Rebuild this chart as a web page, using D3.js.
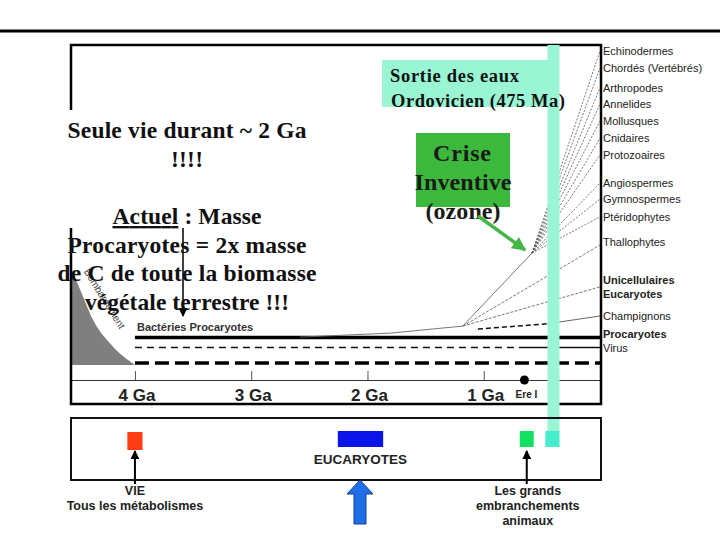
<!DOCTYPE html>
<html lang="fr">
<head>
<meta charset="utf-8">
<title>Histoire de la vie</title>
<script src="https://cdn.jsdelivr.net/npm/d3@7"></script>
<style>
  body { margin: 0; background: #fff; }
  svg { display: block; }
</style>
</head>
<body>
<script>
// ---- data (time in Ga, level in arbitrary units 0..100) ----
var tickValues = [4, 3, 2, 1];
var tickLabels = ["4 Ga", "3 Ga", "2 Ga", "1 Ga"];

var groupNames = ["Echinodermes", "Chordés (Vertébrés)", "Arthropodes", "Annelides",
  "Mollusques", "Cnidaires", "Protozoaires", "Angiospermes", "Gymnospermes",
  "Ptéridophytes", "Thallophytes", "Unicellulaires", "Eucaryotes", "Champignons",
  "Procaryotes", "Virus"];
var groupLevels = [98.2, 93.1, 87.2, 82.4, 77.3, 72.2, 67.2, 58.8, 54.0, 48.7, 41.2,
  29.9, 25.7, 19.1, 13.7, 9.6];
var groupBold = [0, 0, 0, 0, 0, 0, 0, 0, 0, 0, 0, 1, 1, 0, 1, 0];

// branches: start time, start level, end level (end time = 0)
var branchFrom = [0.585, 0.585, 0.585, 0.585, 0.585, 0.585, 0.585, 0.585, 0.585, 0.585, 1.18, 1.18];
var branchFromLevel = [37.9, 37.9, 37.9, 37.9, 37.9, 37.9, 37.9, 37.9, 37.9, 37.9, 16.1, 16.1];
var branchToLevel = [98.2, 93.1, 87.2, 82.4, 77.3, 72.2, 67.2, 58.8, 54.0, 48.7, 40.3, 27.8];

// eukaryote stem
var stemTimes = [2.58, 1.8, 1.18, 0.585];
var stemLevels = [12.8, 14.0, 16.1, 37.9];

// procaryote lines
var procaLevel = 12.7, virusLevel = 9.7, bacteriaLevel = 5.1;
var linesStart = 4.0, virusSolidFrom = 0.68;
var champDash = [[1.05, 15.2], [0.45, 16.8]];
var champSolid = [[0.45, 16.8], [0, 19.1]];

// bombardement area
var bombTimes = [4.55, 4.47, 4.36, 4.2, 4.0];
var bombLevels = [33.5, 26.9, 17.9, 10.4, 4.5];

var ereI = 0.65;
var sortieTime = 0.40;

// events on the lower strip
var eventTimes = [4.0, 2.06, 0.63, 0.41];
var eventWidths = [0.13, 0.39, 0.12, 0.12];
var eventColors = ["#ff3c12", "#0a14e6", "#12e262", "#45ecce"];

// ---- drawing ----
var w = 720, h = 540;
var svg = d3.select("body").append("svg").attr("width", w).attr("height", h);

var x = d3.scaleLinear().domain([4.55, 0]).range([71, 600]);
var y = d3.scaleLinear().domain([0, 100]).range([380, 45]);

var sans = "'Liberation Sans', Arial, sans-serif";
var serif = "'Liberation Serif', 'Times New Roman', serif";

var defs = svg.append("defs");
function marker(id, color, size) {
  defs.append("marker").attr("id", id).attr("viewBox", "0 0 10 10")
    .attr("refX", 9).attr("refY", 5).attr("markerWidth", size).attr("markerHeight", size)
    .attr("markerUnits", "userSpaceOnUse").attr("orient", "auto")
    .append("path").attr("d", "M0,0L10,5L0,10z").attr("fill", color);
}
marker("blk", "#000", 9);
marker("grn", "#45b545", 14);

// top rule
svg.append("line").attr("x1", 0).attr("x2", 720).attr("y1", 31).attr("y2", 31)
  .attr("stroke", "#000").attr("stroke-width", 3);

// bombardement
svg.append("path")
  .datum(d3.range(bombTimes.length))
  .attr("d", d3.area().curve(d3.curveMonotoneX)
    .x(function(i) { return x(bombTimes[i]); })
    .y0(y(bacteriaLevel) + 2)
    .y1(function(i) { return y(bombLevels[i]); }))
  .attr("fill", "#7f7f7f");

svg.append("text").text("Bombardement")
  .attr("transform", "translate(" + (x(4.33) + 5) + "," + (y(24) + 1) + ") rotate(58)")
  .attr("text-anchor", "middle")
  .attr("font-family", sans).attr("font-size", "10px").attr("fill", "#444");

// axis
var axis = svg.append("g").attr("transform", "translate(0,380)")
  .call(d3.axisTop(x).tickValues(tickValues).tickSize(9).tickSizeOuter(0).tickFormat(""));
axis.select(".domain").attr("stroke", "#333");
axis.selectAll(".tick line").attr("stroke", "#555");

svg.selectAll(".gal").data(tickValues).enter().append("text")
  .attr("x", function(d) { return x(d) + 2; }).attr("y", 401)
  .attr("text-anchor", "middle")
  .attr("font-family", sans).attr("font-weight", "bold").attr("font-size", "17px")
  .attr("fill", "#222")
  .text(function(d, i) { return tickLabels[i]; });

svg.append("circle").attr("cx", x(ereI)).attr("cy", 380).attr("r", 4.5).attr("fill", "#000");
svg.append("text").attr("x", x(ereI) + 2).attr("y", 398).attr("text-anchor", "middle")
  .attr("font-family", sans).attr("font-weight", "bold").attr("font-size", "10px")
  .attr("fill", "#222").text("Ere I");

// procaryote lines
svg.append("line").attr("x1", x(linesStart)).attr("x2", x(0))
  .attr("y1", y(procaLevel)).attr("y2", y(procaLevel))
  .attr("stroke", "#000").attr("stroke-width", 3.5);
svg.append("line").attr("x1", x(linesStart)).attr("x2", x(virusSolidFrom))
  .attr("y1", y(virusLevel)).attr("y2", y(virusLevel))
  .attr("stroke", "#111").attr("stroke-width", 1.3).attr("stroke-dasharray", "7,5");
svg.append("line").attr("x1", x(virusSolidFrom)).attr("x2", x(0))
  .attr("y1", y(virusLevel)).attr("y2", y(virusLevel))
  .attr("stroke", "#111").attr("stroke-width", 1.3);
svg.append("line").attr("x1", x(linesStart)).attr("x2", x(0))
  .attr("y1", y(bacteriaLevel)).attr("y2", y(bacteriaLevel))
  .attr("stroke", "#000").attr("stroke-width", 3.5).attr("stroke-dasharray", "14,6");

svg.append("text").attr("x", x(linesStart) + 2).attr("y", 331)
  .attr("font-family", sans).attr("font-weight", "bold").attr("font-size", "11px")
  .attr("fill", "#333").text("Bactéries Procaryotes");

// eukaryote stem + branches
var line = d3.line().x(function(d) { return x(d[0]); }).y(function(d) { return y(d[1]); });
svg.append("path")
  .attr("d", line(stemTimes.map(function(t, i) { return [t, stemLevels[i]]; })))
  .attr("fill", "none").attr("stroke", "#666").attr("stroke-width", 0.9);

svg.selectAll(".branch").data(branchFrom).enter().append("path")
  .attr("d", function(t, i) { return line([[t, branchFromLevel[i]], [0, branchToLevel[i]]]); })
  .attr("fill", "none").attr("stroke", "#555").attr("stroke-width", 0.8)
  .attr("stroke-dasharray", function(t, i) { return i < 10 ? "2,1.5" : "3,1.5"; });

svg.append("path").attr("d", line(champDash))
  .attr("fill", "none").attr("stroke", "#111").attr("stroke-width", 1.5).attr("stroke-dasharray", "5,3");
svg.append("path").attr("d", line(champSolid))
  .attr("fill", "none").attr("stroke", "#555").attr("stroke-width", 0.9);

// main frame
var frame = svg.append("g").attr("stroke", "#000").attr("stroke-width", 2.5).attr("fill", "none");
frame.append("path").attr("d", "M71,110V45H601V404H71V228");

// Ordovicien bar
svg.append("rect").attr("x", x(sortieTime) - 6).attr("y", 45).attr("width", 12).attr("height", 402)
  .attr("fill", "#9af5d4");

// lower strip
svg.append("rect").attr("x", 71).attr("y", 418).attr("width", 530).attr("height", 62)
  .attr("fill", "none").attr("stroke", "#111").attr("stroke-width", 2);

svg.selectAll(".ev").data(eventTimes).enter().append("rect")
  .attr("x", function(t, i) { return x(t + eventWidths[i] / 2); })
  .attr("width", function(t, i) { return x(t - eventWidths[i] / 2) - x(t + eventWidths[i] / 2); })
  .attr("y", function(t, i) { return i === 0 ? 432 : 431; })
  .attr("height", function(t, i) { return i === 0 ? 18 : 16; })
  .attr("fill", function(t, i) { return eventColors[i]; });

svg.append("text").attr("x", x(eventTimes[1])).attr("y", 464).attr("text-anchor", "middle")
  .attr("font-family", sans).attr("font-weight", "bold").attr("font-size", "13.5px")
  .attr("fill", "#222").text("EUCARYOTES");

[eventTimes[0], eventTimes[2]].forEach(function(t) {
  svg.append("line").attr("x1", x(t)).attr("x2", x(t)).attr("y1", 484).attr("y2", 451)
    .attr("stroke", "#000").attr("stroke-width", 2).attr("marker-end", "url(#blk)");
});

var bottomText = svg.append("g").attr("font-family", sans).attr("font-weight", "bold")
  .attr("font-size", "12.5px").attr("fill", "#222").attr("text-anchor", "middle");
bottomText.append("text").attr("x", x(eventTimes[0])).attr("y", 495).text("VIE");
bottomText.append("text").attr("x", x(eventTimes[0])).attr("y", 510).text("Tous les métabolismes");
bottomText.append("text").attr("x", x(eventTimes[2]) + 1).attr("y", 495).text("Les grands");
bottomText.append("text").attr("x", x(eventTimes[2]) + 1).attr("y", 510).text("embranchements");
bottomText.append("text").attr("x", x(eventTimes[2]) + 1).attr("y", 525).text("animaux");

// big blue arrow
var bx = x(eventTimes[1]) - 0.5;
svg.append("path")
  .attr("d", "M" + bx + ",480L" + (bx + 13) + ",494H" + (bx + 6) + "V524H" + (bx - 6) +
    "V494H" + (bx - 13) + "Z")
  .attr("fill", "#1f6fe8").attr("stroke", "#1b3c8c").attr("stroke-width", 1);

// right labels
svg.selectAll(".lab").data(groupNames).enter().append("text")
  .attr("x", 603).attr("y", function(d, i) { return y(groupLevels[i]); })
  .attr("dy", "0.35em")
  .attr("font-family", sans).attr("font-size", "11px")
  .attr("font-weight", function(d, i) { return groupBold[i] ? "bold" : "normal"; })
  .attr("fill", "#222").text(function(d) { return d; });

// Sortie des eaux
svg.append("rect").attr("x", 382).attr("y", 60).attr("width", 170).attr("height", 47)
  .attr("fill", "#9af5d4");
var sortie = svg.append("g").attr("font-family", serif).attr("font-weight", "bold")
  .attr("font-size", "18.5px").attr("fill", "#111");
sortie.append("text").attr("x", 390).attr("y", 82).attr("textLength", 129).text("Sortie des eaux");
sortie.append("text").attr("x", 391).attr("y", 107).attr("textLength", 174).text("Ordovicien (475 Ma)");

// Crise inventive
svg.append("rect").attr("x", 416).attr("y", 133).attr("width", 94).attr("height", 74)
  .attr("fill", "#3cb83c");
var crise = svg.append("g").attr("font-family", serif).attr("font-weight", "bold")
  .attr("font-size", "24px").attr("fill", "#1a1a1a").attr("text-anchor", "middle");
crise.append("text").attr("x", 462).attr("y", 161).attr("textLength", 58).text("Crise");
crise.append("text").attr("x", 463).attr("y", 190).attr("textLength", 97).text("Inventive");
crise.append("text").attr("x", 463).attr("y", 219).attr("textLength", 75).text("(ozone)");
svg.append("line").attr("x1", 478).attr("y1", 216).attr("x2", 525).attr("y2", 250)
  .attr("stroke", "#45b545").attr("stroke-width", 3.5).attr("marker-end", "url(#grn)");

// left commentary
svg.append("line").attr("x1", 183).attr("x2", 183).attr("y1", 228).attr("y2", 316)
  .attr("stroke", "#000").attr("stroke-width", 1.5).attr("marker-end", "url(#blk)");
var left = svg.append("g").attr("font-family", serif).attr("font-weight", "bold")
  .attr("font-size", "23.5px").attr("fill", "#111").attr("text-anchor", "middle");
var leftLines = ["Seule vie durant ~ 2 Ga", "!!!!", "", "Procaryotes = 2x masse",
  "de C de toute la biomasse", "végétale terrestre !!!"];
var leftWidths = [239, 32, 149, 239, 259, 204];
var leftY = [138, 167, 224, 253, 281, 310];
leftLines.forEach(function(s, i) {
  if (s) left.append("text").attr("x", 187).attr("y", leftY[i])
    .attr("textLength", leftWidths[i]).text(s);
});
var act = left.append("text").attr("x", 187).attr("y", leftY[2]).attr("textLength", leftWidths[2]);
act.append("tspan").attr("text-decoration", "underline").text("Actuel");
act.append("tspan").text(" : Masse");
</script>
</body>
</html>
